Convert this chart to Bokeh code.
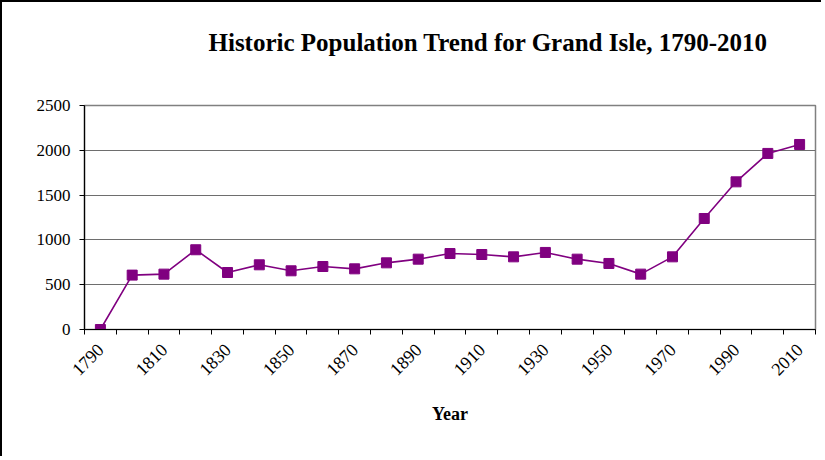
import math
from bokeh.plotting import figure
from bokeh.models import FixedTicker, Range1d, ColumnDataSource, Title
from bokeh.embed import file_html
from bokeh.resources import INLINE

years = [1790, 1800, 1810, 1820, 1830, 1840, 1850, 1860, 1870, 1880, 1890,
         1900, 1910, 1920, 1930, 1940, 1950, 1960, 1970, 1980, 1990, 2000, 2010]
population = [0, 607, 618, 890, 636, 722, 655, 703, 677, 744, 785,
              848, 837, 811, 860, 785, 737, 618, 811, 1239, 1648, 1965, 2065]
label_years = [1790, 1810, 1830, 1850, 1870, 1890, 1910, 1930, 1950, 1970, 1990, 2010]
y_ticks = [0, 500, 1000, 1500, 2000, 2500]
title_text = "Historic Population Trend for Grand Isle, 1790-2010"

SERIF = "Liberation Serif"
PURPLE = "#800080"

src = ColumnDataSource(dict(x=years, y=population))

p = figure(width=821, height=456, output_backend="svg", toolbar_location=None,
           x_range=Range1d(years[0] - 5, years[-1] + 5), y_range=Range1d(0, 2500),
           min_border_left=82, min_border_right=8, min_border_top=103, min_border_bottom=129)

p.styles = {"border-left": "2px solid black", "border-top": "2px solid black"}

spacer = Title(text=" ", text_font_size="2px", standoff=46)
p.add_layout(spacer, "above")
main_title = Title(text=title_text, text_font=SERIF, text_font_size="25px",
                   text_font_style="bold", text_color="black", align="left",
                   offset=124, standoff=0)
p.add_layout(main_title, "above")

p.line("x", "y", source=src, line_color=PURPLE, line_width=1.6)
p.scatter("x", "y", source=src, marker="square", size=10,
          fill_color=PURPLE, line_color=PURPLE)

p.outline_line_color = "#808080"
p.outline_line_width = 1.5

# x axis
p.xaxis.ticker = FixedTicker(ticks=label_years,
                             minor_ticks=[y - 5 for y in years] + [years[-1] + 5])
p.xaxis.major_tick_line_color = None
p.xaxis.minor_tick_out = 5
p.xaxis.minor_tick_in = 0
p.xaxis.minor_tick_line_color = "black"
p.xaxis.axis_line_color = "black"
p.xaxis.axis_line_width = 1.2
p.xaxis.major_label_orientation = math.pi / 4
p.xaxis.major_label_text_font = SERIF
p.xaxis.major_label_text_font_size = "18px"
p.xaxis.major_label_text_color = "black"
p.xaxis.major_label_standoff = 11
p.xaxis.axis_label = "Year"
p.xaxis.axis_label_text_font = SERIF
p.xaxis.axis_label_text_font_size = "18px"
p.xaxis.axis_label_text_font_style = "bold"
p.xaxis.axis_label_text_color = "black"
p.xaxis.axis_label_standoff = 20
p.xgrid.grid_line_color = None

# y axis
p.yaxis.ticker = FixedTicker(ticks=y_ticks)
p.yaxis.minor_tick_line_color = None
p.yaxis.major_tick_out = 5
p.yaxis.major_tick_in = 0
p.yaxis.axis_line_color = "black"
p.yaxis.axis_line_width = 1.2
p.yaxis.major_label_text_font = SERIF
p.yaxis.major_label_text_font_size = "17px"
p.yaxis.major_label_text_color = "black"
p.yaxis.major_label_standoff = 9
p.ygrid.grid_line_color = "#6e6e6e"
p.ygrid.grid_line_width = 1.2

open("out.html", "w").write(file_html(p, INLINE))
